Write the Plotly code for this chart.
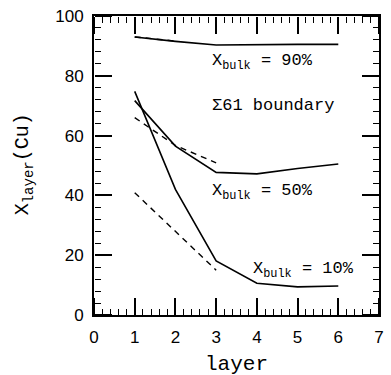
import plotly.graph_objects as go

layers = [1, 2, 3, 4, 5, 6]
bulk90 = [93.0, 91.5, 90.3, 90.5, 90.5, 90.5]
bulk50 = [71.7, 56.5, 47.7, 47.2, 49.0, 50.5]
bulk10 = [74.8, 42.0, 18.1, 10.6, 9.4, 9.7]

dash90_layers = [1, 2]
dash90 = [93.0, 91.6]
dash_layers = [1, 2, 3]
dash50 = [66.0, 56.7, 50.9]
dash10 = [40.9, 28.0, 15.0]

x_range = [0, 7]
y_range = [0, 100]

MONO = "Liberation Mono"
fig = go.Figure()
for y in (bulk90, bulk50, bulk10):
    fig.add_trace(go.Scatter(x=layers, y=y, mode="lines",
                             line=dict(color="black", width=1.6), showlegend=False))
fig.add_trace(go.Scatter(x=dash90_layers, y=dash90, mode="lines",
                         line=dict(color="black", width=1.4, dash="6px,5px"), showlegend=False))
for y in (dash50, dash10):
    fig.add_trace(go.Scatter(x=dash_layers, y=y, mode="lines",
                             line=dict(color="black", width=1.4, dash="6px,5px"), showlegend=False))

# helper invisible traces so the tick-only overlay axes are drawn
for i in (2, 3, 4, 5):
    fig.add_trace(go.Scatter(x=layers[:1], y=bulk90[:1], xaxis=f"x{i}", yaxis=f"y{i}",
                             mode="markers", marker=dict(opacity=0), hoverinfo="skip",
                             showlegend=False))

tickfont = dict(family="Liberation Sans", size=17, color="black")
base = dict(showgrid=False, zeroline=False)

fig.update_layout(
    xaxis=dict(range=x_range, dtick=1, tick0=0, showline=True, linecolor="black", linewidth=2,
               mirror=True, ticks="outside", ticklen=6, tickcolor="rgba(0,0,0,0)",
               tickfont=tickfont, **base),
    yaxis=dict(range=y_range, dtick=20, tick0=0, showline=True, linecolor="black", linewidth=2,
               mirror=True, ticks="outside", ticklen=5, tickcolor="rgba(0,0,0,0)",
               tickfont=tickfont, **base),
)

def xtick(dtick, ln, w):
    return dict(range=x_range, dtick=dtick, tick0=0, showticklabels=False, showline=False,
                ticks="outside", ticklen=ln, tickwidth=w, tickcolor="black",
                overlaying="x", anchor="free", **base)

def ytick(dtick, ln, w):
    return dict(range=y_range, dtick=dtick, tick0=0, showticklabels=False, showline=False,
                ticks="outside", ticklen=ln, tickwidth=w, tickcolor="black",
                overlaying="y", anchor="free", **base)

fig.update_layout(
    xaxis2=dict(side="top", position=0, **xtick(1, 17, 1.5)),
    xaxis3=dict(side="bottom", position=1, **xtick(1, 17, 1.5)),
    xaxis4=dict(side="top", position=0, **xtick(0.2, 6, 1.2)),
    xaxis5=dict(side="bottom", position=1, **xtick(0.2, 6, 1.2)),
    yaxis2=dict(side="right", position=0, **ytick(20, 17, 1.5)),
    yaxis3=dict(side="left", position=1, **ytick(20, 17, 1.5)),
    yaxis4=dict(side="right", position=0, **ytick(4, 6, 1.2)),
    yaxis5=dict(side="left", position=1, **ytick(4, 6, 1.2)),
)

ann_font = dict(family=MONO, size=17, color="black")
anns = [
    (4.13, 84.7, "X<sub>bulk</sub> = 90%"),
    (4.39, 70.0, "Σ61 boundary"),
    (4.13, 41.0, "X<sub>bulk</sub> = 50%"),
    (5.15, 15.0, "X<sub>bulk</sub> = 10%"),
]
for x, y, t in anns:
    fig.add_annotation(x=x, y=y, text=t, showarrow=False, font=ann_font,
                       xref="x", yref="y", xanchor="center", yanchor="middle")

fig.add_annotation(x=0.5, y=-0.165, xref="paper", yref="paper", text="layer",
                   xanchor="center", yanchor="middle",
                   showarrow=False, font=dict(family=MONO, size=21, color="black"))
fig.add_annotation(x=-0.248, y=0.505, xref="paper", yref="paper",
                   text="X<sub>layer</sub>(Cu)", textangle=-90,
                   xanchor="center", yanchor="middle",
                   showarrow=False, font=dict(family=MONO, size=20, color="black"))

fig.update_layout(width=391, height=375, margin=dict(l=94, r=7, t=15, b=60),
                  plot_bgcolor="white", paper_bgcolor="white")
fig.write_html("out.html")
